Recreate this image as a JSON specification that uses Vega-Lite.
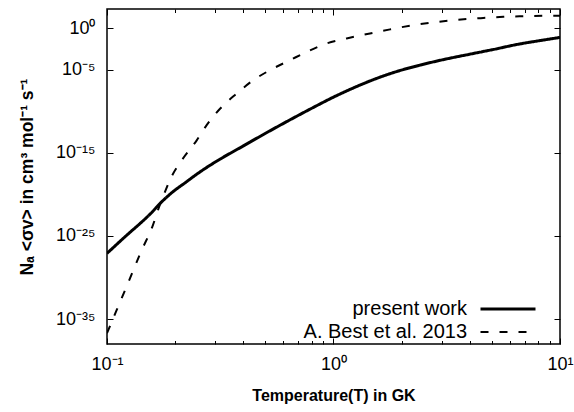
{
  "$schema": "https://vega.github.io/schema/vega-lite/v6.json",
  "width": 453,
  "height": 335,
  "autosize": "none",
  "padding": {"left": 107, "top": 9, "right": 14, "bottom": 68},
  "background": "white",
  "config": {
    "view": {"stroke": "#000000", "strokeWidth": 1.5},
    "axis": {
      "labelFont": "Liberation Sans",
      "labelFontSize": 18,
      "labelColor": "#000000",
      "titleFont": "Liberation Sans",
      "titleFontSize": 16,
      "titleFontWeight": "bold",
      "titleColor": "#000000",
      "tickColor": "#000000",
      "tickWidth": 1,
      "domain": false,
      "grid": false
    }
  },
  "data": {
    "values": [
      {"T": 0.1, "rate": 7.94e-28, "series": "present work"},
      {"T": 0.1259, "rate": 2.51e-25, "series": "present work"},
      {"T": 0.14, "rate": 3.16e-24, "series": "present work"},
      {"T": 0.1585, "rate": 7.94e-23, "series": "present work"},
      {"T": 0.1714, "rate": 7.94e-22, "series": "present work"},
      {"T": 0.1932, "rate": 1.58e-20, "series": "present work"},
      {"T": 0.2239, "rate": 3.16e-19, "series": "present work"},
      {"T": 0.2512, "rate": 3.16e-18, "series": "present work"},
      {"T": 0.2851, "rate": 3.16e-17, "series": "present work"},
      {"T": 0.3162, "rate": 1.78e-16, "series": "present work"},
      {"T": 0.3981, "rate": 6.31e-15, "series": "present work"},
      {"T": 0.5012, "rate": 2.24e-13, "series": "present work"},
      {"T": 0.631, "rate": 7.08e-12, "series": "present work"},
      {"T": 0.7943, "rate": 2.0e-10, "series": "present work"},
      {"T": 1.0, "rate": 5.01e-9, "series": "present work"},
      {"T": 1.259, "rate": 8.91e-8, "series": "present work"},
      {"T": 1.585, "rate": 1.12e-6, "series": "present work"},
      {"T": 1.995, "rate": 8.91e-6, "series": "present work"},
      {"T": 2.41, "rate": 3.55e-5, "series": "present work"},
      {"T": 3.162, "rate": 2.0e-4, "series": "present work"},
      {"T": 4.009, "rate": 7.41e-4, "series": "present work"},
      {"T": 5.012, "rate": 2.51e-3, "series": "present work"},
      {"T": 6.653, "rate": 1.26e-2, "series": "present work"},
      {"T": 7.943, "rate": 2.82e-2, "series": "present work"},
      {"T": 10.0, "rate": 7.59e-2, "series": "present work"},
      {"T": 0.1, "rate": 2.0e-37, "series": "A. Best et al. 2013"},
      {"T": 0.1104, "rate": 1.26e-34, "series": "A. Best et al. 2013"},
      {"T": 0.1259, "rate": 6.31e-31, "series": "A. Best et al. 2013"},
      {"T": 0.1413, "rate": 1.26e-27, "series": "A. Best et al. 2013"},
      {"T": 0.1585, "rate": 1.26e-24, "series": "A. Best et al. 2013"},
      {"T": 0.1714, "rate": 6.31e-22, "series": "A. Best et al. 2013"},
      {"T": 0.1778, "rate": 7.94e-21, "series": "A. Best et al. 2013"},
      {"T": 0.1941, "rate": 2.0e-18, "series": "A. Best et al. 2013"},
      {"T": 0.2138, "rate": 1.26e-16, "series": "A. Best et al. 2013"},
      {"T": 0.2489, "rate": 3.16e-14, "series": "A. Best et al. 2013"},
      {"T": 0.2754, "rate": 2.14e-12, "series": "A. Best et al. 2013"},
      {"T": 0.3162, "rate": 2.14e-10, "series": "A. Best et al. 2013"},
      {"T": 0.3741, "rate": 1.38e-8, "series": "A. Best et al. 2013"},
      {"T": 0.4426, "rate": 5.5e-7, "series": "A. Best et al. 2013"},
      {"T": 0.5248, "rate": 8.91e-6, "series": "A. Best et al. 2013"},
      {"T": 0.6427, "rate": 1.41e-4, "series": "A. Best et al. 2013"},
      {"T": 0.7621, "rate": 1.41e-3, "series": "A. Best et al. 2013"},
      {"T": 0.9333, "rate": 1.45e-2, "series": "A. Best et al. 2013"},
      {"T": 1.143, "rate": 5.75e-2, "series": "A. Best et al. 2013"},
      {"T": 1.449, "rate": 0.229, "series": "A. Best et al. 2013"},
      {"T": 1.778, "rate": 0.708, "series": "A. Best et al. 2013"},
      {"T": 2.254, "rate": 2.29, "series": "A. Best et al. 2013"},
      {"T": 2.818, "rate": 5.25, "series": "A. Best et al. 2013"},
      {"T": 3.381, "rate": 9.12, "series": "A. Best et al. 2013"},
      {"T": 4.467, "rate": 15.85, "series": "A. Best et al. 2013"},
      {"T": 5.623, "rate": 22.9, "series": "A. Best et al. 2013"},
      {"T": 7.079, "rate": 27.5, "series": "A. Best et al. 2013"},
      {"T": 10.0, "rate": 31.6, "series": "A. Best et al. 2013"}
    ]
  },
  "layer": [
    {
      "mark": {"type": "line", "color": "#000000", "interpolate": "monotone", "clip": true},
      "encoding": {
        "x": {
          "field": "T", "type": "quantitative",
          "scale": {"type": "log", "domain": [0.1, 10], "nice": false},
          "axis": {
            "orient": "bottom",
            "values": [0.1, 1, 10],
            "tickSize": -6,
            "labelPadding": 17,
            "labelExpr": "datum.value < 0.5 ? '10⁻¹' : datum.value < 5 ? '10⁰' : '10¹'",
            "labelFlush": false,
            "title": "Temperature(T) in GK",
            "titlePadding": 14
          }
        },
        "y": {
          "field": "rate", "type": "quantitative",
          "scale": {"type": "log", "domain": [1e-38, 200], "nice": false},
          "axis": {
            "orient": "left",
            "values": [1, 1e-5, 1e-15, 1e-25, 1e-35],
            "tickSize": -6,
            "labelPadding": 18,
            "labelExpr": "datum.value >= 0.5 ? '10⁰' : datum.value >= 1e-6 ? '10⁻⁵' : datum.value >= 1e-16 ? '10⁻¹⁵' : datum.value >= 1e-26 ? '10⁻²⁵' : '10⁻³⁵'",
            "labelFlush": false,
            "title": "Nₐ <σv> in cm³ mol⁻¹ s⁻¹",
            "titleFontSize": 17.5,
            "titlePadding": 19
          }
        },
        "strokeDash": {
          "field": "series", "type": "nominal",
          "scale": {"domain": ["present work", "A. Best et al. 2013"], "range": [[1, 0], [8, 11]]},
          "legend": {
            "title": null,
            "orient": "none",
            "legendX": 391,
            "legendY": 290,
            "padding": 0,
            "symbolType": "M-10,0H10",
            "symbolSize": 30.25,
            "symbolStrokeColor": "#000000",
            "labelFont": "Liberation Sans",
            "labelFontSize": 20,
            "labelColor": "#000000",
            "labelAlign": "right",
            "labelOffset": -51,
            "labelLimit": 400,
            "rowPadding": 3
          }
        },
        "strokeWidth": {
          "field": "series", "type": "nominal",
          "scale": {"domain": ["present work", "A. Best et al. 2013"], "range": [3, 2]},
          "legend": null
        }
      }
    },
    {
      "mark": {"type": "point", "opacity": 0},
      "encoding": {
        "x": {
          "field": "T", "type": "quantitative",
          "scale": {"type": "log", "domain": [0.1, 10], "nice": false},
          "axis": {"orient": "top", "values": [0.1, 1, 10], "tickSize": -6, "labels": false, "title": null}
        },
        "y": {
          "field": "rate", "type": "quantitative",
          "scale": {"type": "log", "domain": [1e-38, 200], "nice": false},
          "axis": {"orient": "right", "values": [1, 1e-5, 1e-15, 1e-25, 1e-35], "tickSize": -6, "labels": false, "title": null}
        }
      }
    },
    {
      "mark": {"type": "point", "opacity": 0},
      "encoding": {
        "x": {
          "field": "T", "type": "quantitative",
          "scale": {"type": "log", "domain": [0.1, 10], "nice": false},
          "axis": {"orient": "bottom", "values": [0.2, 0.3, 0.4, 0.5, 0.6, 0.7, 0.8, 0.9, 2, 3, 4, 5, 6, 7, 8, 9], "tickSize": -3.5, "labels": false, "title": null}
        },
        "y": {
          "field": "rate", "type": "quantitative",
          "scale": {"type": "log", "domain": [1e-38, 200], "nice": false},
          "axis": null
        }
      }
    },
    {
      "mark": {"type": "point", "opacity": 0},
      "encoding": {
        "x": {
          "field": "T", "type": "quantitative",
          "scale": {"type": "log", "domain": [0.1, 10], "nice": false},
          "axis": {"orient": "top", "values": [0.2, 0.3, 0.4, 0.5, 0.6, 0.7, 0.8, 0.9, 2, 3, 4, 5, 6, 7, 8, 9], "tickSize": -3.5, "labels": false, "title": null}
        },
        "y": {
          "field": "rate", "type": "quantitative",
          "scale": {"type": "log", "domain": [1e-38, 200], "nice": false},
          "axis": null
        }
      }
    }
  ],
  "resolve": {"axis": {"x": "independent", "y": "independent"}}
}
